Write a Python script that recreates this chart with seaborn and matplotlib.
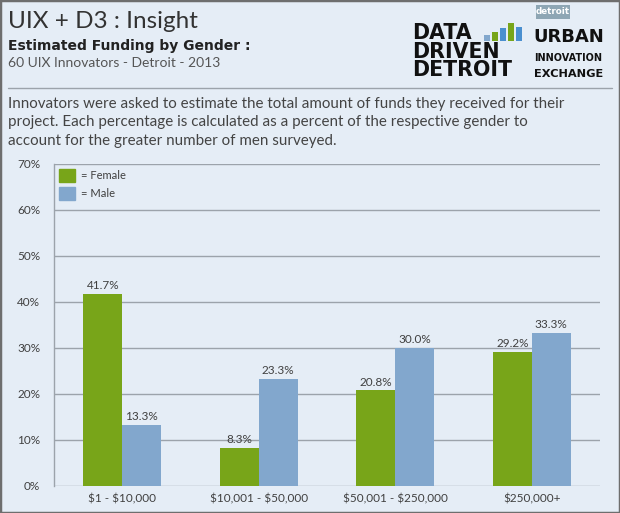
import matplotlib
matplotlib.use("Agg")
import matplotlib.pyplot as plt
import seaborn as sns
import pandas as pd
from matplotlib.patches import Rectangle, Patch
from matplotlib.lines import Line2D

categories = ["$1 - $10,000", "$10,001 - $50,000", "$50,001 - $250,000", "$250,000+"]
female = [41.7, 8.3, 20.8, 29.2]
male = [13.3, 23.3, 30.0, 33.3]
yticks = [0, 10, 20, 30, 40, 50, 60, 70]

GREEN = "#78a519"
BLUE = "#82a7cd"
BG = "#e5edf6"
GRID = "#9ca3ab"
TXT = "#404040"

df = pd.DataFrame({
    "range": categories * 2,
    "gender": ["Female"] * 4 + ["Male"] * 4,
    "pct": female + male,
})

sns.set_theme(style="white")
plt.rcParams["font.family"] = ["Lato", "DejaVu Sans"]
plt.rcParams["text.parse_math"] = False

W, H = 620, 513
fig = plt.figure(figsize=(W / 100, H / 100), dpi=100)
fig.patch.set_facecolor(BG)

def fx(x):
    return x / W

def fy(y):
    return 1 - y / H

ax = fig.add_axes([fx(54), fy(486), fx(600) - fx(54), fy(164) - fy(486)])
ax.set_facecolor(BG)

sns.barplot(data=df, x="range", y="pct", hue="gender", order=categories,
            hue_order=["Female", "Male"], palette=[GREEN, BLUE],
            width=0.57, gap=0, ax=ax, legend=False, zorder=3, saturation=1,
            linewidth=0, edgecolor="none")

ax.set_xlim(-0.5, 3.5)
ax.set_ylim(0, 70)
ax.set_yticks(yticks)
ax.set_yticklabels([f"{v}%" for v in yticks], fontsize=8.5, color=TXT)
ax.tick_params(axis="y", length=0, pad=10)
ax.tick_params(axis="x", length=0, pad=5, labelsize=8.5, labelcolor=TXT)
ax.set_xlabel("")
ax.set_ylabel("")
ax.yaxis.grid(True, color=GRID, linewidth=1, zorder=0)
ax.set_axisbelow(True)
for s in ["top", "right", "bottom"]:
    ax.spines[s].set_visible(False)
ax.spines["left"].set_color(GRID)
ax.spines["left"].set_linewidth(1)

for cont, vals in zip(ax.containers, [female, male]):
    ax.bar_label(cont, labels=[f"{v:.1f}%" for v in vals], padding=2,
                 fontsize=8.5, color=TXT)

handles = [Patch(facecolor=GREEN, edgecolor=GREEN, label="= Female"),
           Patch(facecolor=BLUE, edgecolor=BLUE, label="= Male")]
leg = ax.legend(handles=handles, loc="upper left", bbox_to_anchor=(0.0, 1.0),
                frameon=False, fontsize=8, handlelength=1.45, handleheight=1.45,
                handletextpad=0.5, labelspacing=0.4, borderaxespad=0.25,
                borderpad=0.2)
for t in leg.get_texts():
    t.set_color(TXT)

# Header
fig.text(fx(8), fy(21), "UIX + D3 : Insight", fontsize=17.5,
         color="#333333", va="center", ha="left")
fig.text(fx(8), fy(46), "Estimated Funding by Gender :", fontsize=10,
         fontweight="bold", color="#222222", va="center", ha="left",
         family="DejaVu Sans")
fig.text(fx(8), fy(63), "60 UIX Innovators - Detroit - 2013", fontsize=10,
         color="#555555", va="center", ha="left")

fig.add_artist(Line2D([fx(8), fx(612)], [fy(88), fy(88)], color=GRID,
                      linewidth=1, transform=fig.transFigure))

desc = ("Innovators were asked to estimate the total amount of funds they received for their\n"
        "project. Each percentage is calculated as a percent of the respective gender to\n"
        "account for the greater number of men surveyed.")
fig.text(fx(8), fy(97), desc, fontsize=10.9, color="#444444", va="top", ha="left",
         linespacing=1.4)

# Logo
for i, word in enumerate(["DATA", "DRIVEN", "DETROIT"]):
    fig.text(fx(412), fy(33 + i * 18.5), word, fontsize=14.8, fontweight="bold",
             family="DejaVu Sans", color="#111111", va="center", ha="left")
bar_specs = [(484, 6, BLUE), (492, 9, GREEN), (500, 13, "#4a8fcf"),
             (508, 18, GREEN), (516, 14, "#4a8fcf")]
for x0, h, c in bar_specs:
    fig.add_artist(Rectangle((fx(x0), fy(41)), fx(6), h / H, facecolor=c,
                             edgecolor="none", transform=fig.transFigure))

fig.add_artist(Rectangle((fx(536), fy(19)), fx(34), 14 / H, facecolor="#8ea6b4",
                         edgecolor="none", transform=fig.transFigure))
fig.text(fx(553), fy(12), "detroit", fontsize=6.3, fontweight="bold", color="white",
         va="center", ha="center", family="DejaVu Sans")
fig.text(fx(533), fy(37), "URBAN", fontsize=13, fontweight="bold", color="#111111",
         va="center", ha="left", family="DejaVu Sans")
fig.text(fx(534), fy(58), "INNOVATION", fontsize=7, fontweight="bold", color="#111111",
         va="center", ha="left", family="DejaVu Sans")
fig.text(fx(534), fy(74), "EXCHANGE", fontsize=8.2, fontweight="bold", color="#111111",
         va="center", ha="left", family="DejaVu Sans")

# Border
fig.add_artist(Rectangle((0, 0), 1, 1, facecolor="none", edgecolor="#6e6e6e",
                         linewidth=2.5, transform=fig.transFigure))

fig.savefig("out.png", dpi=100, facecolor=BG)
